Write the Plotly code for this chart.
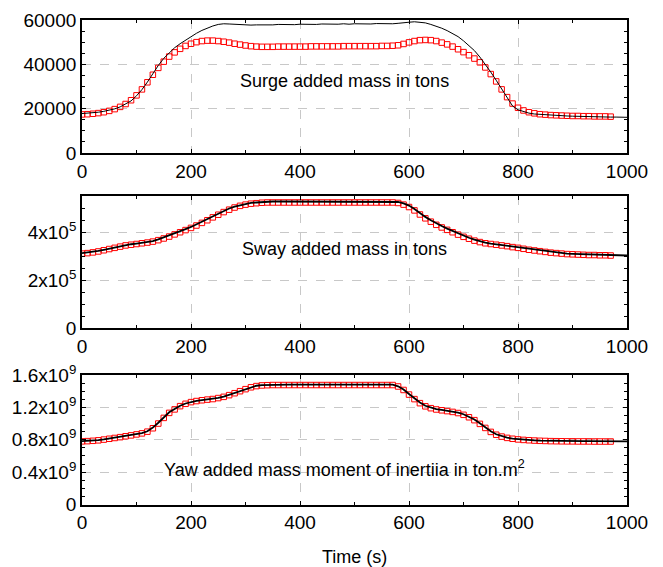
import plotly.graph_objects as go

# ---------------- data ----------------
t_red = list(range(0, 980, 10))      # 0..970 s
t_black = list(range(0, 1010, 10))   # 0..1000 s

surge_black = [17800,17900,18100,18400,18800,19300,19900,20800,22000,23500,25800,28600,32000,35800,39500,42700,45300,47500,49300,51000,52600,54000,55300,56400,57300,58000,58300,58200,58000,57900,57800,57700,57800,57700,57900,
               57800,58000,57900,58100,57900,58100,58000,58200,58000,58200,58100,58300,58100,58300,58100,58300,58200,58400,58200,58400,58300,58500,58300,
               58500,58600,59000,59200,59000,58700,58000,57200,56300,55200,54000,52500,50600,48500,46200,43300,40000,36500,32800,28800,
               24800,21200,19500,18600,18000,17600,17400,17200,17000,16900,16800,16700,16600,16500,16500,16400,16400,16300,16300,16200,
               16200,16200,16100]
surge_red = [17400,17500,17700,18000,18400,19000,19800,20800,22100,23800,26000,28700,31900,35300,38400,41200,43500,45400,47000,48300,49300,50000,50500,50700,50700,50500,50200,49800,49300,48900,48500,48200,48000,47900,47900,
             47900,48000,48000,48000,48000,48000,48000,48100,48100,48100,48100,48100,48100,48200,48200,48200,48200,48200,48200,48200,48300,48300,48400,
             48600,49200,49900,50500,50900,51000,50900,50500,49800,49000,48000,46800,45500,44100,42600,40900,38600,35600,32300,28700,
             25200,22300,20400,19200,18400,17900,17500,17300,17100,17000,16900,16800,16700,16700,16600,16600,16500,16500,16500,16400]

sway_black = [3.12e5,3.14e5,3.17e5,3.21e5,3.26e5,3.31e5,3.36e5,3.41e5,3.46e5,3.49e5,3.52e5,3.55e5,3.58e5,3.62e5,3.69e5,3.77e5,3.85e5,3.94e5,4.03e5,4.12e5,4.21e5,4.32e5,4.43e5,4.54e5,4.66e5,4.77e5,4.88e5,4.98e5,5.06e5,5.12e5,5.17e5,5.21e5,5.23e5,5.25e5,5.26e5,
              5.27e5,5.27e5,5.27e5,5.27e5,5.27e5,5.27e5,5.27e5,5.27e5,5.27e5,5.27e5,5.27e5,5.27e5,5.27e5,5.27e5,5.27e5,5.27e5,5.27e5,5.27e5,5.27e5,5.27e5,5.27e5,5.27e5,5.27e5,
              5.25e5,5.19e5,5.10e5,4.96e5,4.79e5,4.63e5,4.49e5,4.36e5,4.25e5,4.14e5,4.04e5,3.94e5,3.85e5,3.76e5,3.68e5,3.61e5,3.56e5,3.52e5,3.49e5,3.46e5,
              3.43e5,3.39e5,3.36e5,3.32e5,3.28e5,3.25e5,3.22e5,3.19e5,3.16e5,3.14e5,3.12e5,3.10e5,3.09e5,3.08e5,3.07e5,3.06e5,3.05e5,3.04e5,3.04e5,3.03e5,
              3.03e5,3.02e5,3.02e5]
sway_red = [3.10e5,3.12e5,3.15e5,3.19e5,3.24e5,3.29e5,3.34e5,3.39e5,3.44e5,3.47e5,3.50e5,3.53e5,3.56e5,3.60e5,3.66e5,3.73e5,3.81e5,3.90e5,3.99e5,4.08e5,4.17e5,4.27e5,4.38e5,4.49e5,4.61e5,4.72e5,4.83e5,4.93e5,5.02e5,5.09e5,5.14e5,5.18e5,5.20e5,5.22e5,5.23e5,
            5.23e5,5.23e5,5.23e5,5.23e5,5.23e5,5.23e5,5.23e5,5.23e5,5.23e5,5.23e5,5.23e5,5.23e5,5.23e5,5.23e5,5.23e5,5.23e5,5.23e5,5.23e5,5.23e5,5.23e5,5.23e5,5.23e5,5.23e5,
            5.21e5,5.14e5,5.04e5,4.90e5,4.73e5,4.57e5,4.43e5,4.30e5,4.19e5,4.09e5,3.99e5,3.89e5,3.80e5,3.72e5,3.64e5,3.58e5,3.53e5,3.50e5,3.47e5,3.44e5,
            3.41e5,3.37e5,3.34e5,3.30e5,3.26e5,3.23e5,3.20e5,3.17e5,3.14e5,3.12e5,3.10e5,3.08e5,3.07e5,3.06e5,3.05e5,3.04e5,3.04e5,3.03e5,3.03e5,3.02e5]

yaw_black = [0.783e9,0.786e9,0.790e9,0.796e9,0.805e9,0.815e9,0.825e9,0.835e9,0.846e9,0.857e9,0.869e9,0.882e9,0.905e9,0.950e9,1.010e9,1.080e9,1.140e9,1.180e9,1.220e9,1.248e9,1.268e9,1.280e9,1.290e9,1.298e9,1.305e9,1.318e9,1.333e9,1.355e9,1.380e9,1.405e9,1.430e9,1.452e9,1.467e9,1.474e9,1.477e9,
             1.480e9,1.480e9,1.480e9,1.480e9,1.480e9,1.480e9,1.480e9,1.480e9,1.480e9,1.480e9,1.480e9,1.480e9,1.480e9,1.480e9,1.480e9,1.480e9,1.480e9,1.480e9,1.480e9,1.480e9,1.480e9,1.480e9,1.480e9,
             1.460e9,1.420e9,1.365e9,1.310e9,1.260e9,1.220e9,1.195e9,1.178e9,1.168e9,1.158e9,1.148e9,1.135e9,1.115e9,1.085e9,1.050e9,1.005e9,0.955e9,0.905e9,0.868e9,0.843e9,
             0.826e9,0.815e9,0.807e9,0.801e9,0.796e9,0.792e9,0.789e9,0.787e9,0.785e9,0.784e9,0.784e9,0.783e9,0.783e9,0.782e9,0.782e9,0.782e9,0.781e9,0.781e9,0.781e9,0.780e9,
             0.780e9,0.780e9,0.780e9]
yaw_red = [0.780e9,0.783e9,0.787e9,0.793e9,0.802e9,0.812e9,0.822e9,0.832e9,0.843e9,0.854e9,0.866e9,0.879e9,0.900e9,0.942e9,1.000e9,1.070e9,1.132e9,1.175e9,1.215e9,1.244e9,1.265e9,1.278e9,1.288e9,1.296e9,1.303e9,1.315e9,1.330e9,1.351e9,1.375e9,1.400e9,1.425e9,1.448e9,1.463e9,1.471e9,1.474e9,
           1.476e9,1.476e9,1.476e9,1.476e9,1.476e9,1.476e9,1.476e9,1.476e9,1.476e9,1.476e9,1.476e9,1.476e9,1.476e9,1.476e9,1.476e9,1.476e9,1.476e9,1.476e9,1.476e9,1.476e9,1.476e9,1.476e9,1.476e9,
           1.458e9,1.415e9,1.358e9,1.302e9,1.252e9,1.213e9,1.190e9,1.174e9,1.164e9,1.154e9,1.144e9,1.130e9,1.108e9,1.078e9,1.042e9,0.996e9,0.946e9,0.897e9,0.862e9,0.839e9,
           0.823e9,0.812e9,0.804e9,0.798e9,0.794e9,0.790e9,0.787e9,0.785e9,0.783e9,0.782e9,0.781e9,0.780e9,0.780e9,0.779e9,0.779e9,0.779e9,0.778e9,0.778e9,0.778e9,0.778e9]

x_ticks = [0, 200, 400, 600, 800, 1000]
surge_ticks = [0, 20000, 40000, 60000]
surge_ticktext = ["0", "20000", "40000", "60000"]
sway_ticks = [0, 2e5, 4e5]
sway_ticktext = ["0", "2x10<sup>5</sup>", "4x10<sup>5</sup>"]
yaw_ticks = [0, 0.4e9, 0.8e9, 1.2e9, 1.6e9]
yaw_ticktext = ["0", "0.4x10<sup>9</sup>", "0.8x10<sup>9</sup>", "1.2x10<sup>9</sup>", "1.6x10<sup>9</sup>"]

panels = [
    (surge_red, surge_black, surge_ticks, surge_ticktext, [0, 60000], 5000, 1.0, "Surge added mass in tons", 32700),
    (sway_red, sway_black, sway_ticks, sway_ticktext, [0, 5.5e5], 5e4, 1.8, "Sway added mass in tons", 3.29e5),
    (yaw_red, yaw_black, yaw_ticks, yaw_ticktext, [0, 1.6e9], 1e8, 1.8, "Yaw added mass moment of inertiia in ton.m<sup>2</sup>", 0.45e9),
]

W, H = 663, 567
xdom = [82 / W, 627 / W]
ydoms = [[1 - 153 / H, 1 - 20 / H], [1 - 328 / H, 1 - 196 / H], [1 - 504.5 / H, 1 - 375 / H]]
FONT = "Liberation Sans, Arial, sans-serif"

fig = go.Figure()
layout = dict(
    width=W, height=H, margin=dict(l=0, r=0, t=0, b=0, autoexpand=False),
    paper_bgcolor="white", plot_bgcolor="white", showlegend=False,
    font=dict(family=FONT, size=18, color="black"),
    annotations=[],
)

for i, (red, black, yt, ytt, yr, ymin, lw, label, ylab) in enumerate(panels):
    n = "" if i == 0 else str(i + 1)
    xa, ya = "x" + n, "y" + n
    fig.add_trace(go.Scatter(x=t_red, y=red, mode="markers", xaxis=xa, yaxis=ya,
                             marker=dict(symbol="square-open", size=5.5, color="#ff0000",
                                         line=dict(width=1, color="#ff0000"))))
    fig.add_trace(go.Scatter(x=t_black, y=black, mode="lines", xaxis=xa, yaxis=ya,
                             line=dict(color="black", width=lw)))
    common = dict(showline=True, linecolor="black", linewidth=1.8, mirror="ticks",
                  ticks="inside", ticklen=4, tickcolor="black", automargin=False,
                  showgrid=True, gridcolor="#c8c8c8", griddash="dash", gridwidth=1,
                  zeroline=False, tickfont=dict(family=FONT, size=19, color="black"))
    layout["xaxis" + n] = dict(domain=xdom, anchor=ya, range=[0, 1000], tickvals=x_ticks,
                               minor=dict(ticks="inside", ticklen=3, dtick=100, tickcolor="black", showgrid=False),
                               **common)
    layout["yaxis" + n] = dict(domain=ydoms[i], anchor=xa, range=yr, tickvals=yt, ticktext=ytt,
                               minor=dict(ticks="inside", ticklen=3, dtick=ymin, tickcolor="black", showgrid=False),
                               **common)
    layout["annotations"].append(dict(x=482, y=ylab, xref=xa, yref=ya, text=label, showarrow=False,
                                      xanchor="center", yanchor="middle",
                                      font=dict(family=FONT, size=18, color="black")))

layout["annotations"].append(dict(x=0.5 * (xdom[0] + xdom[1]), y=1 - 557 / H, xref="paper", yref="paper",
                                  text="Time (s)", showarrow=False, xanchor="center", yanchor="middle",
                                  font=dict(family=FONT, size=18, color="black")))
fig.update_layout(**layout)
fig.write_html("out.html")
